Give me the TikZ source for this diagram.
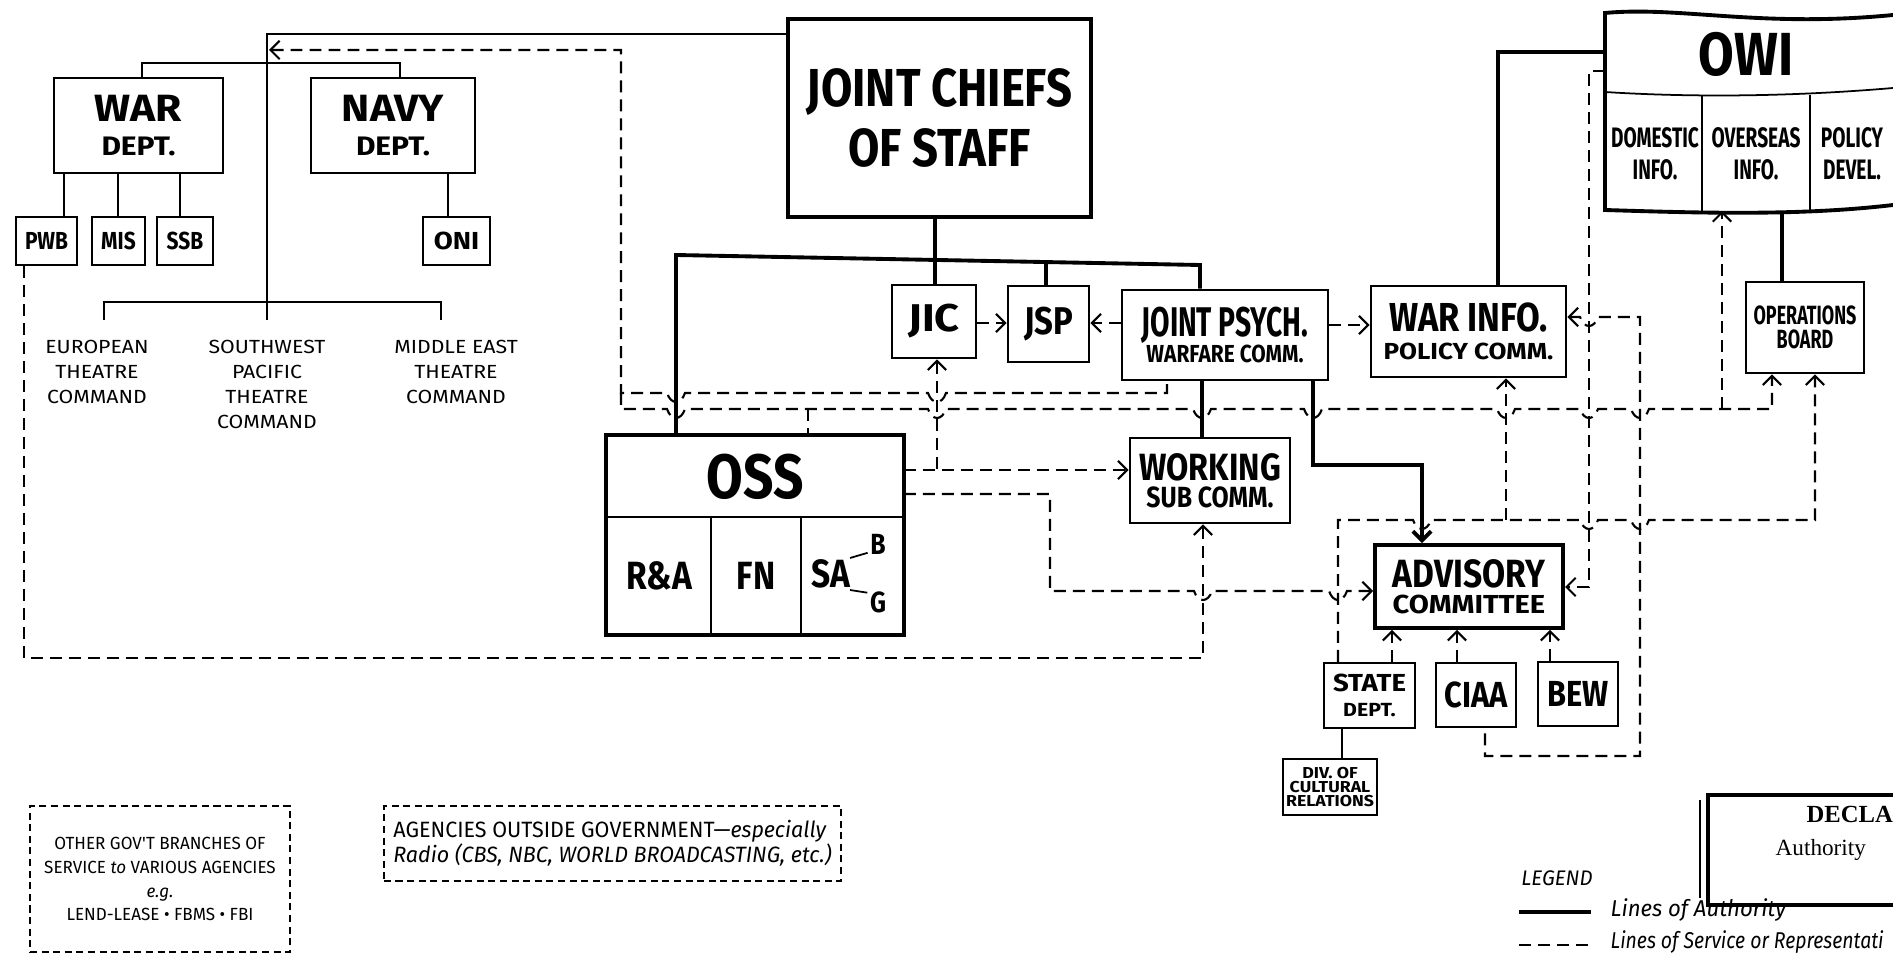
\documentclass[tikz,border=0pt]{standalone}
\usepackage{fontspec}
\usetikzlibrary{arrows.meta}
\newfontfamily\ltnarrow[FakeStretch=0.68]{Fira Sans}
\newfontfamily\ltmed[FakeStretch=0.85]{Fira Sans}
\newfontfamily\ltwide[FakeStretch=1.12]{Fira Sans}
\newfontfamily\ltplain[FakeStretch=0.97]{Fira Sans}
\newfontfamily\stampfont{Liberation Serif}
% lettering: size in pt, text
\newcommand{\txn}[2]{{\ltnarrow\bfseries\fontsize{#1}{#1}\selectfont #2}}
\newcommand{\txm}[2]{{\ltmed\bfseries\fontsize{#1}{#1}\selectfont #2}}
\newcommand{\txw}[2]{{\ltwide\bfseries\fontsize{#1}{#1}\selectfont #2}}
\newcommand{\txr}[2]{{\ltwide\fontsize{#1}{#1}\selectfont #2}}
\newcommand{\txp}[2]{{\ltplain\fontsize{#1}{#1}\selectfont #2}}
\newcommand{\txi}[2]{{\ltplain\itshape\fontsize{#1}{#1}\selectfont #2}}
\newcommand{\txq}[2]{{\ltmed\itshape\fontsize{#1}{#1}\selectfont #2}}
% little dip where a dashed line passes a vertical one
\newcommand{\hopr}[2]{-- (#1-9,#2) .. controls (#1-5,#2+12) and (#1+5,#2+12) .. (#1+9,#2)}
\tikzset{
  dept/.style    = {rectangle, draw, line width=0.8pt, inner sep=0pt, align=center},
  deptbig/.style = {dept, line width=1.1pt},
  deptsm/.style  = {dept, line width=0.6pt},
  cell/.style    = {rectangle, draw, line width=0.5pt, inner sep=0pt, align=center},
  lbl/.style     = {inner sep=0pt, align=center},
  wh/.style 2 args = {minimum width=#1cm, minimum height=#2cm},
  bsk/.style     = {font=\fontsize{5}{#1}\selectfont},
  auth/.style    = {line width=1.1pt},
  tree/.style    = {line width=0.65pt},
  serv/.style    = {line width=0.6pt, dash pattern=on 3.4pt off 2pt},
  legbox/.style  = {rectangle, draw, line width=0.5pt, dash pattern=on 2pt off 1.3pt, inner sep=0pt},
}
\begin{document}
\begin{tikzpicture}[x=0.01cm, y=-0.01cm, >={Straight Barb[length=2.6pt,width=5.2pt]}]
\useasboundingbox (0,0) rectangle (1893,955);
\fill[white] (0,0) rectangle (1893,955);
\clip (0,0) rectangle (1893,955);

% === war / navy side ===
\node[deptbig, wh={3.03}{1.98}, bsk=16.8pt] (jcs) at (939.5,118) {\txm{15.2}{JOINT CHIEFS}\\\txm{15.2}{OF STAFF}};
\node[dept, wh={1.69}{0.95}, bsk=9.5pt] (war) at (138.5,125.5) {\txw{10.8}{WAR}\\\txw{7.6}{DEPT.}};
\node[dept, wh={1.64}{0.95}, bsk=9.5pt] (navy) at (393,125.5) {\txw{10.8}{NAVY}\\\txw{7.6}{DEPT.}};
\node[deptsm, wh={0.61}{0.48}] (pwb) at (46.5,241) {\txm{7}{PWB}};
\node[deptsm, wh={0.53}{0.48}] (mis) at (118.5,241) {\txm{7}{MIS}};
\node[deptsm, wh={0.56}{0.48}] (ssb) at (185,241) {\txm{7}{SSB}};
\node[deptsm, wh={0.67}{0.48}] (oni) at (456.5,241) {\txw{7}{ONI}};

\node[lbl, bsk=7.1pt] (eto) at (97,372) {\txr{5.4}{EUROPEAN}\\\txr{5.4}{THEATRE}\\\txr{5.4}{COMMAND}};
\node[lbl, bsk=7.1pt] (swpa) at (267,384.5) {\txr{5.4}{SOUTHWEST}\\\txr{5.4}{PACIFIC}\\\txr{5.4}{THEATRE}\\\txr{5.4}{COMMAND}};
\node[lbl, bsk=7.1pt] (meto) at (456,372) {\txr{5.4}{MIDDLE EAST}\\\txr{5.4}{THEATRE}\\\txr{5.4}{COMMAND}};
\coordinate (eto-in) at (104,320);
\coordinate (swpa-in) at (267,320);
\coordinate (meto-in) at (441,320);

\draw[tree] (jcs.west |- 0,34) -- (267,34) -- (267,302);
\draw[tree] (eto-in) -- (104,302) -- (441,302) -- (meto-in);
\draw[tree] (267,302) -- (swpa-in);
\draw[tree] (142,0 |- war.north) -- (142,63) -- (400,63) -- (400,0 |- navy.north);
\foreach \xx/\sub in {64/pwb, 118/mis, 180/ssb}
  \draw[tree] (\xx,0 |- war.south) -- (\xx,0 |- \sub.north);
\draw[tree] (448,0 |- navy.south) -- (448,0 |- oni.north);

% === joint chiefs side ===
\node[dept, wh={0.84}{0.73}] (jic) at (934,321.5) {\txw{11}{JIC}};
\node[dept, wh={0.81}{0.76}] (jsp) at (1048.5,324) {\txm{11}{JSP}};
\node[dept, wh={2.06}{0.90}, bsk=7.3pt] (jpwc) at (1225,335) {\txn{11.8}{JOINT PSYCH.}\\\txm{7}{WARFARE COMM.}};
\node[dept, wh={1.95}{0.91}, bsk=8pt] (warinfo) at (1468.5,331.5) {\txm{11.5}{WAR INFO.}\\\txw{6.6}{POLICY COMM.}};
\node[dept, wh={1.60}{0.85}, bsk=7.8pt] (working) at (1210,480.5) {\txm{10.8}{WORKING}\\\txm{8.3}{SUB COMM.}};
\node[deptbig, wh={1.88}{0.83}, bsk=7.3pt] (advisory) at (1469,586.5) {\txm{11.2}{ADVISORY}\\\txw{7.4}{COMMITTEE}};
\node[deptsm, wh={0.91}{0.65}, bsk=7.0pt] (state) at (1369.5,695.5) {\txw{7}{STATE}\\\txw{5.4}{DEPT.}};
\node[deptsm, wh={0.80}{0.64}] (ciaa) at (1476,695) {\txm{10.3}{CIAA}};
\node[deptsm, wh={0.80}{0.64}] (bew) at (1578,694) {\txm{10.3}{BEW}};
\node[deptsm, wh={0.94}{0.56}, bsk=4.0pt] (divcr) at (1330,787) {\txw{4.5}{DIV. OF}\\\txw{4.5}{CULTURAL}\\\txw{4.5}{RELATIONS}};
\node[dept, wh={1.18}{0.91}, bsk=6.9pt] (ops) at (1805,327.5) {\txn{7.5}{OPERATIONS}\\\txn{7.5}{BOARD}};

% OSS and its branches
\node[cell, wh={2.96}{0.81}] (oss) at (755,476.5) {\txm{17.8}{OSS}};
\node[cell, wh={1.04}{1.17}] (ra) at (659,575.5) {\txm{11.2}{R\&A}};
\node[cell, wh={0.90}{1.17}] (fn) at (756,575.5) {\txm{11.2}{FN}};
\node[cell, wh={1.02}{1.17}] (sa) at (852,575.5) {};
\node[lbl] (sa-t) at (831,574) {\txm{11.2}{SA}};
\node[lbl] (sa-b) at (878,544) {\txm{8.3}{B}};
\node[lbl] (sa-g) at (878,602) {\txm{8.3}{G}};
\draw[line width=0.5pt] ([shift={(-1,-1)}]sa-t.north east) -- ([shift={(-2,-2)}]sa-b.south west);
\draw[line width=0.5pt] ([shift={(-1,1)}]sa-t.south east) -- ([shift={(-2,2)}]sa-g.north west);
\draw[line width=1pt] (oss.north west) rectangle (sa.south east);

% OWI
\draw[line width=1.1pt] (1893,15) .. controls (1760,28) and (1680,6) .. (1605,13) -- (1605,210)
  .. controls (1700,213) and (1800,216) .. (1893,205);
\draw[line width=0.5pt] (1605,92) .. controls (1700,98) and (1800,96) .. (1893,88);
\draw[line width=0.5pt] (1702,96) -- (1702,211);
\draw[line width=0.5pt] (1810,95) -- (1810,212);
\node[lbl] (owi) at (1746,54) {\txm{17.3}{OWI}};
\node[lbl, bsk=9.1pt] (dom) at (1655,154) {\txn{8}{DOMESTIC}\\\txn{8}{INFO.}};
\node[lbl, bsk=9.1pt] (ovs) at (1756,154) {\txn{8}{OVERSEAS}\\\txn{8}{INFO.}};
\node[lbl, bsk=9.1pt] (pol) at (1852,154) {\txn{8}{POLICY}\\\txn{8}{DEVEL.}};
\coordinate (owi-a) at (1605,52);
\coordinate (owi-d) at (1605,71);
\coordinate (owi-b) at (1782,211);
\coordinate (owi-o) at (1722,211);

% lines of authority
\draw[auth] (935,0 |- jcs.south) -- (935,0 |- jic.north);
\draw[auth] (676,0 |- oss.north) -- (676,255) -- (1200,265) -- (1200,0 |- jpwc.north);
\draw[auth] (1046,262) -- (1046,0 |- jsp.north);
\draw[auth] (1202,0 |- jpwc.south) -- (1202,0 |- working.north);
\draw[auth,->] (1313,0 |- jpwc.south) -- (1313,465) -- (1422,465) -- (1422,0 |- advisory.north);
\draw[auth] (1498,0 |- warinfo.north) -- (1498,52) -- (owi-a);
\draw[auth] (owi-b) -- (owi-b |- ops.north);
\draw[tree] (1342,0 |- state.south) -- (1342,0 |- divcr.north);

% lines of service
\coordinate (army-in) at (269,50);
\draw[serv,<-] (army-in) -- (621,50) -- (621,393) \hopr{676}{393} \hopr{937}{393} -- (1167,393) -- (1167,0 |- jpwc.south);
\draw[serv,->] (621,393) -- (621,409) \hopr{676}{409} \hopr{937}{409} \hopr{1202}{409} \hopr{1313}{409}
  \hopr{1506}{409} \hopr{1589}{409} \hopr{1640}{409} -- (1772,409) -- (1772,0 |- ops.south);
\draw[serv] (808,409) -- (808,0 |- oss.north);
\draw[serv,->] (1722,409) -- (owi-o);
\draw[serv,<-] (937,0 |- jic.south) -- (937,470);
\draw[serv,->] (oss.east |- 0,470) -- (working.west |- 0,470);
\draw[serv,->] (oss.east |- 0,494) -- (1050,494) -- (1050,591) \hopr{1203}{591} \hopr{1338}{591} -- (advisory.west |- 0,591);
\draw[serv,->] (24,0 |- pwb.south) -- (24,658) -- (1203,658) -- (1203,0 |- working.south);
\draw[serv,->] (1338,0 |- state.north) -- (1338,520) \hopr{1422}{520} -- (1506,520) \hopr{1589}{520} \hopr{1640}{520} -- (1815,520) -- (1815,0 |- ops.south);
\draw[serv,->] (1506,520) -- (1506,0 |- warinfo.south);
\draw[serv,->] (1392,0 |- state.north) -- (1392,0 |- advisory.south);
\draw[serv,->] (1457,0 |- ciaa.north) -- (1457,0 |- advisory.south);
\draw[serv,->] (1550,0 |- bew.north) -- (1550,0 |- advisory.south);
\draw[serv,->] (owi-d) -- (1589,71) -- (1589,587) -- (advisory.east |- 0,587);
\draw[serv,<-] (warinfo.east |- 0,317) \hopr{1589}{317} -- (1640,317) -- (1640,756) -- (1485,756) -- (1485,0 |- ciaa.south);
\draw[serv,->] (jic.east |- 0,323) -- (jsp.west |- 0,323);
\draw[serv,->] (jpwc.west |- 0,323) -- (jsp.east |- 0,323);
\draw[serv,->] (jpwc.east |- 0,325) -- (warinfo.west |- 0,325);

% boxes at the bottom
\node[legbox, wh={2.60}{1.46}, align=center, bsk=6.8pt] (other) at (160,879)
  {\txp{5}{OTHER GOV'T BRANCHES OF}\\\txp{5}{SERVICE \textit{to} VARIOUS AGENCIES}\\\txi{5}{e.g.}\\\txp{5}{LEND-LEASE • FBMS • FBI}};
\node[legbox, wh={4.57}{0.75}, align=left, bsk=7.2pt] (outside) at (612.5,843.5)
  {\txp{6.3}{AGENCIES OUTSIDE GOVERNMENT—}\txi{6.3}{especially}\\\txi{6.3}{Radio (CBS, NBC, WORLD BROADCASTING, etc.)}};

% stamp
\draw[line width=1.2pt] (1893,795) -- (1708,795) -- (1708,905) -- (1893,905);
\draw[line width=0.4pt] (1700,800) -- (1700,898);
\node[lbl, anchor=base west] (decla) at (1806,822) {\stampfont\bfseries\fontsize{7}{7}\selectfont DECLA};
\node[lbl, anchor=base west] (authy) at (1775,855) {\stampfont\fontsize{6.6}{6.6}\selectfont Authority};

% legend
\node[lbl] (legend) at (1557,878) {\txi{6}{LEGEND}};
\coordinate (la1) at (1519,912);
\coordinate (la2) at (1591,912);
\coordinate (ls1) at (1519,945);
\coordinate (ls2) at (1591,945);
\draw[auth] (la1) -- (la2);
\draw[serv] (ls1) -- (ls2);
\node[lbl, anchor=west] (leg-a) at (1610,910) {\txi{6.5}{Lines of Authority}};
\node[lbl, anchor=west] (leg-s) at (1610,942) {\txq{6.5}{Lines of Service or Representati}};
\end{tikzpicture}
\end{document}
